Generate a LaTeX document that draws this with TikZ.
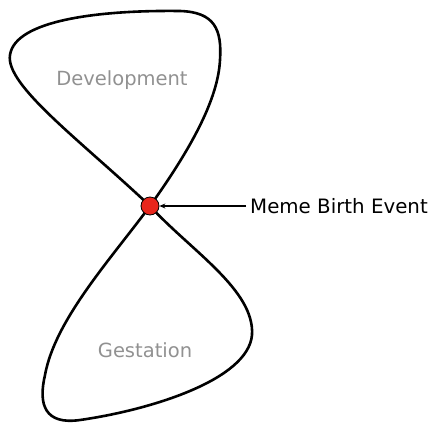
\documentclass[tikz,border=0pt]{standalone}
\usepackage{fontspec}
\setmainfont{DejaVu Sans}
\usetikzlibrary{arrows.meta}
\definecolor{dotred}{RGB}{232,38,28}
\definecolor{labelgray}{RGB}{145,145,145}
\tikzset{
  loop/.style={line width=2.6pt, line join=round},
  region/.style={text=labelgray, font=\fontsize{19.5}{23}\selectfont, inner sep=0pt},
  event/.style={circle, draw=black, line width=0.8pt, fill=dotred, minimum size=18pt, inner sep=0pt},
  callout/.style={font=\fontsize{19.8}{23}\selectfont, inner sep=0pt, anchor=west},
  pointer/.style={line width=1.1pt, -{Stealth[length=6pt,width=5pt]}}
}
\begin{document}
\begin{tikzpicture}[x=1pt,y=-1pt]
\useasboundingbox (0,0) rectangle (432,424);
\coordinate (C) at (150,206);
\draw[loop] (C) .. controls (80,140) and (5,85) .. (10,55)
  .. controls (15,20) and (100,10) .. (180,11)
  .. controls (215,12) and (222,30) .. (220,60)
  .. controls (218,100) and (190,150) .. (C);
\draw[loop] (C) .. controls (190,250) and (255,290) .. (252,335)
  .. controls (248,380) and (150,410) .. (80,420)
  .. controls (45,425) and (38,405) .. (45,375)
  .. controls (55,320) and (110,260) .. (C);
\node[event] (dot) at (C) {};
\node[region] (dev) at (122,80) {Development};
\node[region] (gest) at (145,350) {Gestation};
\node[callout] (lab) at (250,206) {Meme Birth Event};
\draw[pointer] (lab.west) ++(-4,0) coordinate (ls) (ls) -- (dot.east);
\end{tikzpicture}
\end{document}
